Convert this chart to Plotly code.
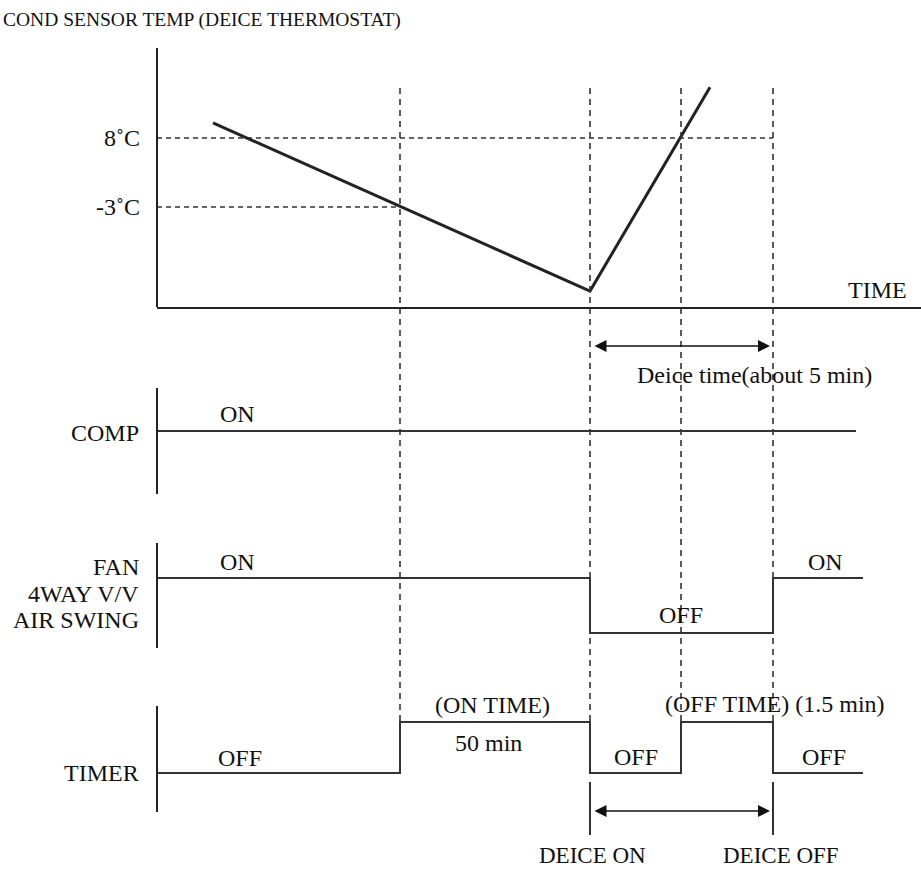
import plotly.graph_objects as go

W, H = 921, 870
FONT = "Liberation Serif"
INK = "#222222"

# ---------------- data (diagram time units, arbitrary scale) ----------------
t_temp_start = 56
t_thermo = 243        # sensor reaches -3 C -> timer starts
t_deice_on = 433
t_reach_8 = 524
t_deice_off = 616
t_comp_end = 699
t_end = 706

temp_t = [t_temp_start, t_deice_on, 553]
temp_c = [10.4, -16.4, 16.1]
thresholds_c = [8, -3]
threshold_end_t = [t_deice_off, t_thermo]
threshold_labels = ["8˚C", "-3˚C"]

comp_t = [0, t_comp_end]
comp_state = [1, 1]

fan_t = [0, t_deice_on, t_deice_off, t_end]
fan_state = [1, 0, 1, 1]

timer_t = [0, t_thermo, t_deice_on, t_reach_8, t_deice_off, t_end]
timer_state = [0, 1, 0, 1, 0, 0]

event_t = [t_thermo, t_deice_on, t_reach_8, t_deice_off]

# ---------------- layout helpers ----------------
X0 = 157  # pixel of t = 0
FS = 24


def px(x, y):
    return x / W, 1 - y / H


def ydom(top, bottom):
    return [1 - bottom / H, 1 - top / H]


def yrange(top, bottom, v_px_a, v_a, v_px_b, v_b):
    per = (v_b - v_a) / (v_px_a - v_px_b)
    return [v_a - (bottom - v_px_a) * per, v_a + (v_px_a - top) * per]


fig = go.Figure()

axis_common = dict(showgrid=False, zeroline=False, showticklabels=False,
                   ticks="", fixedrange=True)

fig.update_layout(
    width=W, height=H, margin=dict(l=0, r=0, t=0, b=0),
    paper_bgcolor="white", plot_bgcolor="rgba(0,0,0,0)",
    showlegend=False,
    font=dict(family=FONT, size=FS, color="#111111"),
    xaxis=dict(domain=[X0 / W, 1], range=[0, W - X0], anchor="y",
               showline=True, linecolor=INK, linewidth=2, **axis_common),
    yaxis=dict(domain=ydom(48, 307), range=yrange(48, 307, 138, 8, 207, -3),
               anchor="free", position=X0 / W, showline=True,
               linecolor=INK, linewidth=2, **axis_common),
    yaxis2=dict(domain=ydom(388, 494), range=yrange(388, 494, 486, 0, 431, 1),
                anchor="free", position=X0 / W, showline=True,
                linecolor=INK, linewidth=2, **axis_common),
    yaxis3=dict(domain=ydom(543, 648), range=yrange(543, 648, 633, 0, 578, 1),
                anchor="free", position=X0 / W, showline=True,
                linecolor=INK, linewidth=2, **axis_common),
    yaxis4=dict(domain=ydom(706, 812), range=yrange(706, 812, 773, 0, 722, 1),
                anchor="free", position=X0 / W, showline=True,
                linecolor=INK, linewidth=2, **axis_common),
)

# threshold dashed lines
for c, te in zip(thresholds_c, threshold_end_t):
    fig.add_trace(go.Scatter(x=[0, te], y=[c, c], mode="lines", yaxis="y",
                             line=dict(color="#333333", width=1.6, dash="5px,4px"),
                             hoverinfo="skip", cliponaxis=False))

# temperature curve
fig.add_trace(go.Scatter(x=temp_t, y=temp_c, mode="lines", yaxis="y",
                         line=dict(color=INK, width=3), hoverinfo="skip"))

# signals
fig.add_trace(go.Scatter(x=comp_t, y=comp_state, mode="lines", yaxis="y2",
                         line=dict(color="#333333", width=2), hoverinfo="skip"))
fig.add_trace(go.Scatter(x=fan_t, y=fan_state, mode="lines", yaxis="y3",
                         line=dict(color="#333333", width=2, shape="hv"),
                         hoverinfo="skip"))
fig.add_trace(go.Scatter(x=timer_t, y=timer_state, mode="lines", yaxis="y4",
                         line=dict(color="#333333", width=2, shape="hv"),
                         hoverinfo="skip"))

# vertical dashed event lines
for te in event_t:
    fig.add_shape(type="line", xref="x", yref="paper", x0=te, x1=te,
                  y0=1 - 88 / H, y1=1 - 722 / H,
                  line=dict(color="#333333", width=1.6, dash="6px,5px"))

# solid markers for deice on / off
for te in [t_deice_on, t_deice_off]:
    fig.add_shape(type="line", xref="x", yref="paper", x0=te, x1=te,
                  y0=1 - 782 / H, y1=1 - 835 / H,
                  line=dict(color="#333333", width=2))

# double arrows
for ypix in [346, 811]:
    fig.add_annotation(x=t_deice_off - 3, y=1 - ypix / H, xref="x", yref="paper",
                       ax=t_deice_on + 3, ay=0, axref="x", ayref="pixel",
                       showarrow=True, arrowhead=2, startarrowhead=2,
                       arrowside="end+start", arrowsize=1.5, startarrowsize=1.5,
                       arrowwidth=1.6, arrowcolor="#111111", standoff=0,
                       startstandoff=0, text="")


def label(text, x, y, anchor="center", size=FS):
    xx, yy = px(x, y)
    fig.add_annotation(x=xx, y=yy, xref="paper", yref="paper", text=text,
                       showarrow=False, xanchor=anchor, yanchor="middle",
                       font=dict(family=FONT, size=size, color="#111111"))


label("COND SENSOR TEMP (DEICE THERMOSTAT)", 1, 20, "left", 19.5)
for lab, ypix in zip(threshold_labels, [138, 207]):
    label(lab, 142, ypix, "right")
label("TIME", 909, 290, "right")
label("Deice time(about 5 min)", 754, 375)
label("COMP", 141, 433, "right")
label("ON", 237, 414)
label("FAN", 141, 567, "right")
label("4WAY V/V", 141, 594, "right")
label("AIR SWING", 141, 620, "right")
label("ON", 237, 562)
label("OFF", 681, 615)
label("ON", 825, 562)
label("TIMER", 141, 773, "right")
label("OFF", 240, 758)
label("(ON TIME)", 492, 705)
label("50 min", 488, 743)
label("OFF", 636, 757)
label("(OFF TIME) (1.5 min)", 775, 704)
label("OFF", 824, 757)
label("DEICE ON", 592, 855, size=23)
label("DEICE OFF", 781, 855, size=23)

fig.write_html(
    "out.html",
    config={"displayModeBar": False, "staticPlot": True},
    post_script="document.body.style.margin='0';document.body.style.overflow='hidden';",
)
